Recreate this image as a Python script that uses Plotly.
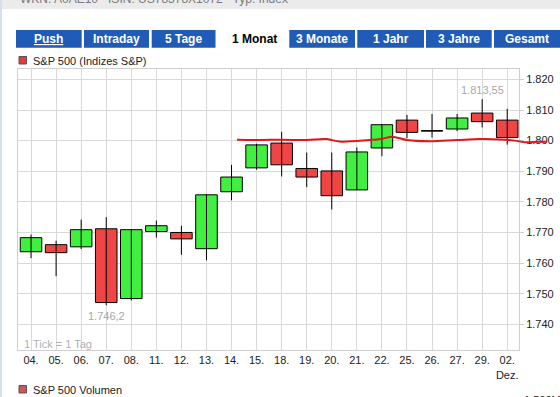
import plotly.graph_objects as go

# ---------------- data ----------------
dates = ["04.", "05.", "06.", "07.", "08.", "11.", "12.", "13.", "14.", "15.",
         "18.", "19.", "20.", "21.", "22.", "25.", "26.", "27.", "29.", "02.<br>Dez."]
opens = [1763.7, 1766.0, 1765.3, 1771.2, 1748.4, 1770.3, 1770.0, 1764.7, 1783.3, 1791.1,
         1799.2, 1790.9, 1790.1, 1783.9, 1797.6, 1806.7, 1803.2, 1803.8, 1809.0, 1806.7]
highs = [1769.3, 1767.3, 1774.2, 1775.0, 1771.1, 1773.9, 1772.2, 1782.3, 1792.1, 1799.0,
         1802.9, 1796.1, 1796.1, 1797.8, 1805.3, 1808.4, 1808.7, 1808.7, 1813.55, 1810.4]
lows = [1761.6, 1755.7, 1764.6, 1746.2, 1747.8, 1768.3, 1762.7, 1760.9, 1780.5, 1790.5,
        1788.3, 1784.8, 1777.5, 1783.9, 1794.9, 1800.8, 1801.0, 1803.1, 1804.3, 1798.7]
closes = [1768.3, 1763.4, 1770.9, 1747.1, 1770.9, 1772.2, 1767.9, 1782.3, 1788.1, 1798.6,
          1792.1, 1788.1, 1782.0, 1796.3, 1805.2, 1802.7, 1803.2, 1807.4, 1806.2, 1801.0]

ma_x = [8.22, 9.1, 10.0, 11.0, 11.8, 12.3, 13.0, 13.96, 14.4, 15.0, 15.9, 17.0, 17.9,
        18.7, 19.3, 19.7, 20.2, 20.6]
ma_y = [1800.3, 1800.2, 1800.3, 1800.2, 1800.5, 1799.7, 1799.9, 1800.5, 1801.3, 1800.2,
        1799.8, 1800.2, 1800.5, 1800.4, 1800.0, 1799.5, 1799.6, 1799.6]

y_ticks = [1740, 1750, 1760, 1770, 1780, 1790, 1800, 1810, 1820]

tabs = ["Push", "Intraday", "5 Tage", "1 Monat", "3 Monate", "1 Jahr", "3 Jahre", "Gesamt"]
active_tab = "1 Monat"
header_text = "WKN: A0AE10   ISIN: US78378X1072   Typ: Index"
legend_main = "S&P 500 (Indizes S&P)"
legend_vol = "S&P 500 Volumen"
tick_note = "1 Tick = 1 Tag"
vol_label = "1.500M"

# ---------------- layout helpers ----------------
W, H = 560, 397
FONT = "Liberation Sans, Arial, sans-serif"
UP, DOWN = "#41ef41", "#f04545"
BODY_W = 0.86


def px(x):
    return x / W


def py(y):
    return 1 - y / H


def de(v):
    s = f"{v:,.2f}".replace(",", "X").replace(".", ",").replace("X", ".")
    return s.rstrip("0").rstrip(",")


plot_l, plot_r, plot_t, plot_b = 18, 519, 69, 350
x0, x1 = -0.52, 19.47
y0, y1 = 1731.6, 1823.4
unit_px = (plot_r - plot_l) / (x1 - x0)
ext_r = 547
x1_ext = x0 + (ext_r - plot_l) / unit_px

xs = list(range(len(dates)))

fig = go.Figure()

# wicks
wx, wy = [], []
for i, h, l in zip(xs, highs, lows):
    wx += [i, i, None]
    wy += [h, l, None]
fig.add_trace(go.Scatter(x=wx, y=wy, mode="lines", line=dict(color="#000000", width=1),
                         showlegend=False, hoverinfo="skip", xaxis="x", yaxis="y"))

# bodies
body_base = [min(o, c) for o, c in zip(opens, closes)]
body_len = [abs(c - o) for o, c in zip(opens, closes)]
body_col = [UP if c > o else DOWN for o, c in zip(opens, closes)]
fig.add_trace(go.Bar(x=xs, y=body_len, base=body_base, width=BODY_W,
                     marker=dict(color=body_col, line=dict(color="#000000", width=1)),
                     showlegend=False, xaxis="x", yaxis="y"))

# doji bars (open == close) drawn as horizontal strokes
dx, dy = [], []
for i, o, c in zip(xs, opens, closes):
    if o == c:
        dx += [i - BODY_W / 2, i + BODY_W / 2, None]
        dy += [o, o, None]
fig.add_trace(go.Scatter(x=dx, y=dy, mode="lines", line=dict(color="#000000", width=1),
                         showlegend=False, hoverinfo="skip", xaxis="x", yaxis="y"))

# moving average line (extends beyond plot edge)
fig.add_trace(go.Scatter(
    x=ma_x, y=ma_y, mode="lines", line=dict(color="#e01818", width=2, shape="spline"),
    showlegend=False, xaxis="x2", yaxis="y2", hoverinfo="skip",
))

shapes = []
annotations = []

# header band
shapes.append(dict(type="rect", xref="paper", yref="paper", x0=0, x1=1, y0=py(9), y1=1,
                   fillcolor="#ebebeb", line=dict(width=0), layer="below"))
shapes.append(dict(type="rect", xref="paper", yref="paper", x0=0, x1=px(2), y0=0, y1=1,
                   fillcolor="#d5e0ec", line=dict(width=0), layer="below"))
annotations.append(dict(text=header_text, xref="paper", yref="paper", x=px(18), y=py(8.5),
                        xanchor="left", yanchor="bottom", showarrow=False,
                        font=dict(family=FONT, size=12, color="#7a7a7a")))

# tabs
tab_bounds = [(16, 81.7), (84, 149), (151.7, 215.5), (218, 287), (289.3, 355),
              (357.3, 424), (426, 491.7), (494, 560)]
for name, (a, b) in zip(tabs, tab_bounds):
    active = name == active_tab
    if not active:
        shapes.append(dict(type="rect", xref="paper", yref="paper", x0=px(a), x1=px(b),
                           y0=py(47.7), y1=py(30), fillcolor="#1f5bb7", line=dict(width=0)))
    f = dict(family=FONT, size=12, color="#000000" if active else "#ffffff")
    if name == "Push":
        f["lineposition"] = "under"
    annotations.append(dict(text=f"<b>{name}</b>", xref="paper", yref="paper",
                            x=px((a + b) / 2 + (2 if active else 0)), y=py(39),
                            xanchor="center", yanchor="middle", showarrow=False, font=f))

# legends
shapes.append(dict(type="rect", xref="paper", yref="paper", x0=px(19), x1=px(26.5),
                   y0=py(64), y1=py(56.5), fillcolor="#e23c3c",
                   line=dict(color="#555555", width=1)))
annotations.append(dict(text=legend_main, xref="paper", yref="paper", x=px(31), y=py(60.5),
                        xanchor="left", yanchor="middle", showarrow=False,
                        font=dict(family=FONT, size=11, color="#222222")))
shapes.append(dict(type="rect", xref="paper", yref="paper", x0=px(19), x1=px(26.5),
                   y0=py(393), y1=py(385.5), fillcolor="#cf5656",
                   line=dict(color="#555555", width=1)))
annotations.append(dict(text=legend_vol, xref="paper", yref="paper", x=px(31), y=py(389.5),
                        xanchor="left", yanchor="middle", showarrow=False,
                        font=dict(family=FONT, size=11, color="#222222")))
annotations.append(dict(text=vol_label, xref="paper", yref="paper", x=px(522), y=py(392),
                        xanchor="left", yanchor="top", showarrow=False,
                        font=dict(family=FONT, size=11, color="#222222")))

# note inside plot
annotations.append(dict(text=tick_note, xref="paper", yref="paper", x=px(22), y=py(344),
                        xanchor="left", yanchor="middle", showarrow=False,
                        font=dict(family=FONT, size=11, color="#b0b0b0")))

# high / low labels
i_hi = highs.index(max(highs))
i_lo = lows.index(min(lows))
annotations.append(dict(text=de(highs[i_hi]), x=xs[i_hi], y=highs[i_hi], xref="x", yref="y",
                        xanchor="center", yanchor="bottom", yshift=1, showarrow=False,
                        font=dict(family=FONT, size=11, color="#a8a8a8")))
annotations.append(dict(text=de(lows[i_lo]), x=xs[i_lo], y=lows[i_lo], xref="x", yref="y",
                        xanchor="center", yanchor="top", yshift=-3, showarrow=False,
                        font=dict(family=FONT, size=11, color="#a8a8a8")))

grid = "#d9d9d9"
fig.update_layout(
    width=W, height=H,
    margin=dict(l=0, r=0, t=0, b=0),
    paper_bgcolor="#ffffff", plot_bgcolor="rgba(0,0,0,0)",
    separators=",.",
    showlegend=False,
    font=dict(family=FONT, size=11, color="#222222"),
    xaxis=dict(domain=[px(plot_l), px(plot_r)], range=[x0, x1], anchor="y",
               tickmode="array", tickvals=xs, ticktext=dates,
               showgrid=True, gridcolor=grid, gridwidth=1, zeroline=False,
               showline=True, linecolor="#cfcfcf", linewidth=1, mirror=True,
               ticks="", fixedrange=True,
               tickfont=dict(family=FONT, size=11, color="#222222")),
    yaxis=dict(domain=[py(plot_b), py(plot_t)], range=[y0, y1], anchor="x", side="right",
               tickmode="array", tickvals=y_ticks, tickformat=",.0f",
               showgrid=True, gridcolor=grid, gridwidth=1, zeroline=False,
               showline=True, linecolor="#cfcfcf", linewidth=1, mirror=True,
               ticks="outside", ticklen=4, tickcolor="#cfcfcf", fixedrange=True,
               tickfont=dict(family=FONT, size=11, color="#222222")),
    xaxis2=dict(domain=[px(plot_l), px(ext_r)], range=[x0, x1_ext], anchor="y2",
                visible=False, fixedrange=True),
    yaxis2=dict(domain=[py(plot_b), py(plot_t)], range=[y0, y1], anchor="x2",
                visible=False, fixedrange=True),
    shapes=shapes,
    annotations=annotations,
)

fig.write_html(
    "out.html",
    config={"displayModeBar": False},
    post_script="document.body.style.margin='0';document.body.style.overflow='hidden';",
)
